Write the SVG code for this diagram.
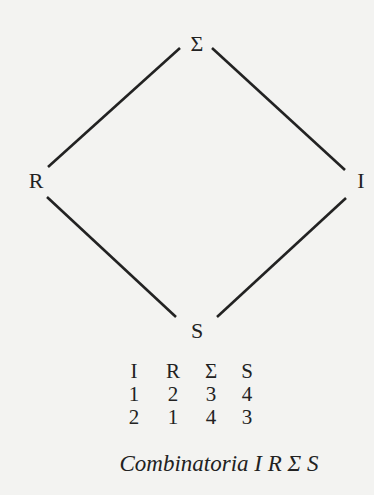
<svg xmlns="http://www.w3.org/2000/svg" width="374" height="495" viewBox="0 0 374 495">
<style>
.lbl{font-family:"Liberation Serif","DejaVu Serif",serif;font-size:22px;fill:#222;text-anchor:middle}
.tbl{font-family:"Liberation Serif","DejaVu Serif",serif;font-size:21px;fill:#222;text-anchor:middle}
.cap{font-family:"Liberation Serif","DejaVu Serif",serif;font-size:23px;font-style:italic;fill:#222;text-anchor:middle}
.edge{stroke:#222;stroke-width:2.6;stroke-linecap:butt;fill:none}
</style>
<rect width="374" height="495" fill="#f3f3f1"/>
<g id="connectors">
<line class="edge" x1="180" y1="48" x2="48" y2="167"/>
<line class="edge" x1="212" y1="48" x2="345" y2="170"/>
<line class="edge" x1="47" y1="197" x2="176" y2="317"/>
<line class="edge" x1="346" y1="198" x2="217" y2="317"/>
</g>
<g id="node-sigma"><text class="lbl" x="197" y="51">Σ</text></g>
<g id="node-R"><text class="lbl" x="36" y="188">R</text></g>
<g id="node-I"><text class="lbl" x="361" y="188">I</text></g>
<g id="node-S"><text class="lbl" x="197" y="338">S</text></g>
<g id="table">
<text class="tbl" x="134" y="378">I</text>
<text class="tbl" x="173" y="378">R</text>
<text class="tbl" x="211" y="378">Σ</text>
<text class="tbl" x="247" y="378">S</text>
<text class="tbl" x="134" y="401">1</text>
<text class="tbl" x="173" y="401">2</text>
<text class="tbl" x="211" y="401">3</text>
<text class="tbl" x="247" y="401">4</text>
<text class="tbl" x="134" y="424">2</text>
<text class="tbl" x="173" y="424">1</text>
<text class="tbl" x="211" y="424">4</text>
<text class="tbl" x="247" y="424">3</text>
</g>
<g id="caption"><text class="cap" x="219" y="471">Combinatoria I R Σ S</text></g>
</svg>
